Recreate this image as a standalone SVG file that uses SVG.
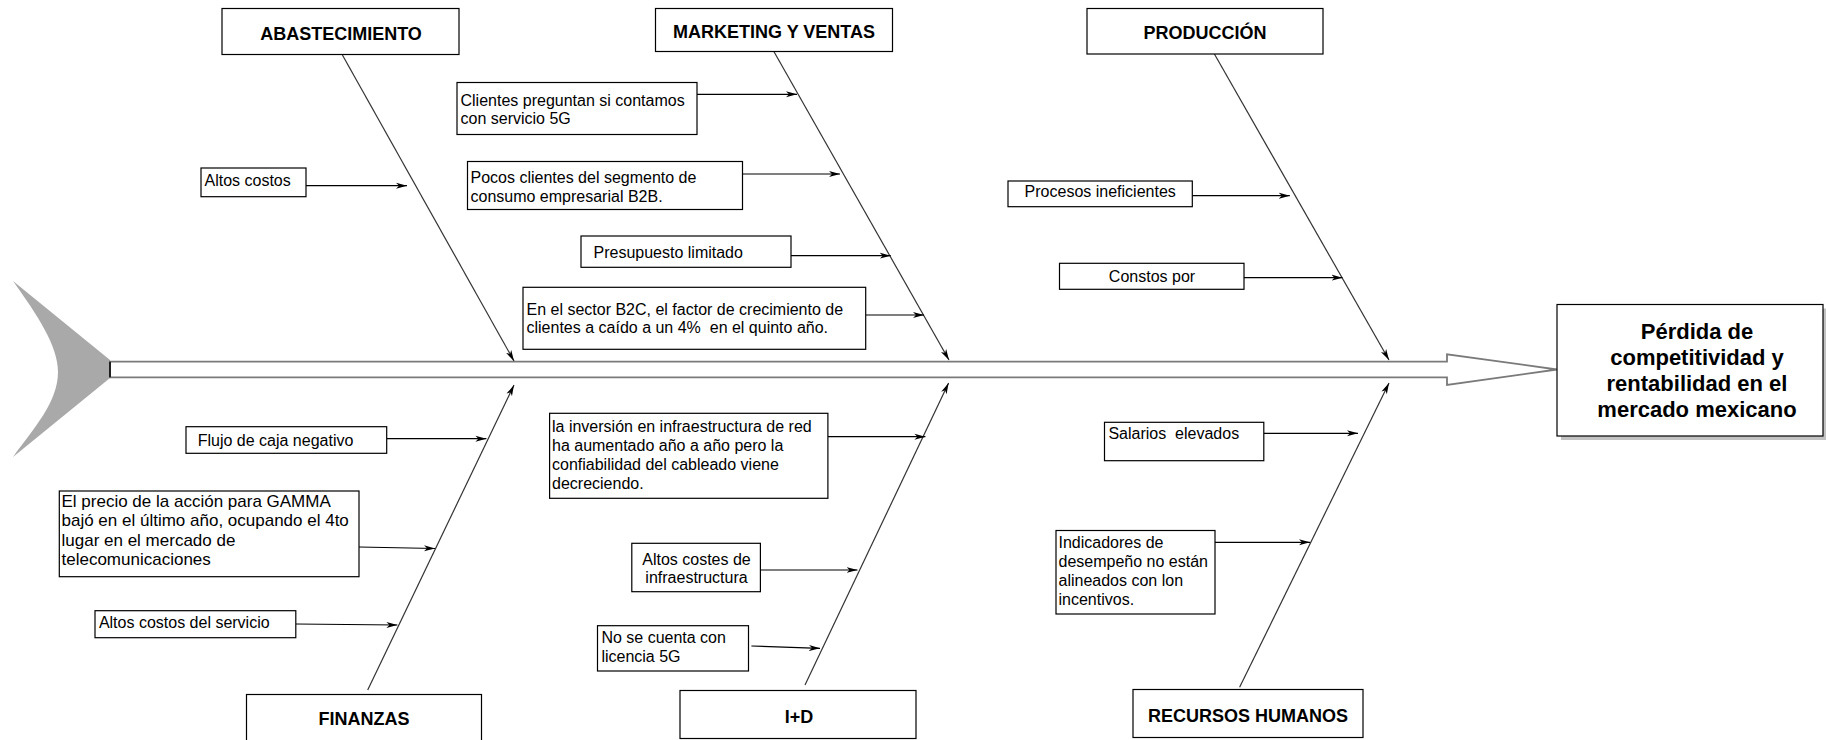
<svg xmlns="http://www.w3.org/2000/svg" width="1826" height="740" viewBox="0 0 1826 740">
<style>
  text { font-family: "Liberation Sans", Arial, sans-serif; fill: #000; white-space: pre; }
  .t { font-size: 16px; }
  .t17 { font-size: 17px; }
  .cat { font-size: 18px; font-weight: bold; text-anchor: middle; }
  .eff { font-size: 22px; font-weight: bold; text-anchor: middle; }
  .mid { text-anchor: middle; }
  .box { fill: #fff; stroke: #000; stroke-width: 1.2; }
  .bone { fill: none; stroke: #333; stroke-width: 1.2; marker-end: url(#ah); }
  .arr { fill: none; stroke: #000; stroke-width: 1.2; marker-end: url(#ah); }
</style>
<defs>
  <marker id="ah" markerUnits="userSpaceOnUse" markerWidth="12" markerHeight="8" refX="11" refY="3.5" orient="auto">
    <path d="M0,0.5 L11,3.5 L0,6.5 L3,3.5 Z" fill="#000"/>
  </marker>
</defs>
<rect width="1826" height="740" fill="#fff"/>

<g id="spine">
  <path d="M13,281 L110,360 L110,378 L13,457 C34,428 58,402 58,372 C58,346 38,316 13,281 Z" fill="#a9a9a9"/>
  <path d="M110,361.7 L1447,361.7 L1447,354.3 L1557,369.5 L1447,385 L1447,377.3 L110,377.3 Z" fill="#fff" stroke="#7a7a7a" stroke-width="1.8"/>
  <line x1="110" y1="361.7" x2="110" y2="377.3" stroke="#000" stroke-width="1.5"/>
</g>

<g id="connectors">
  <line class="bone" x1="342.4" y1="55" x2="514" y2="361"/>
  <line class="bone" x1="774" y1="51.7" x2="949" y2="360"/>
  <line class="bone" x1="1214.4" y1="54" x2="1389" y2="360"/>
  <line class="bone" x1="367.7" y1="690" x2="514" y2="385"/>
  <line class="bone" x1="805" y1="685" x2="948.6" y2="383"/>
  <line class="bone" x1="1239.6" y1="687.3" x2="1389" y2="383"/>

  <line class="arr" x1="306" y1="185.7" x2="407" y2="185.7"/>
  <line class="arr" x1="697" y1="94.3" x2="797" y2="94.3"/>
  <line class="arr" x1="742.5" y1="174" x2="840" y2="174"/>
  <line class="arr" x1="791" y1="255.7" x2="890.7" y2="255.7"/>
  <line class="arr" x1="865.7" y1="315" x2="924" y2="315"/>
  <line class="arr" x1="1192.3" y1="195.7" x2="1289.8" y2="195.7"/>
  <line class="arr" x1="1244" y1="277.7" x2="1342.5" y2="277.7"/>

  <line class="arr" x1="386.7" y1="438.7" x2="486.4" y2="438.7"/>
  <line class="arr" x1="359" y1="547" x2="435" y2="548.5"/>
  <line class="arr" x1="295.8" y1="624" x2="397.4" y2="625"/>
  <line class="arr" x1="828" y1="436.7" x2="925.4" y2="436.7"/>
  <line class="arr" x1="760.4" y1="570" x2="857.5" y2="570"/>
  <line class="arr" x1="751.4" y1="646" x2="820" y2="648.3"/>
  <line class="arr" x1="1263.8" y1="433.3" x2="1358" y2="433.3"/>
  <line class="arr" x1="1215" y1="542.3" x2="1310" y2="542.3"/>
</g>

<g id="effect">
  <rect x="1561" y="308.5" width="266" height="131.5" fill="#9a9a9a" opacity="0.6"/>
  <rect class="box" x="1557" y="304.5" width="266" height="131.5"/>
  <text class="eff" x="1697" y="339">Pérdida de</text>
  <text class="eff" x="1697" y="365">competitividad y</text>
  <text class="eff" x="1697" y="391">rentabilidad en el</text>
  <text class="eff" x="1697" y="417">mercado mexicano</text>
</g>

<g id="cat-abastecimiento">
  <rect class="box" x="222" y="8.5" width="237" height="46"/>
  <text class="cat" x="341" y="39.5">ABASTECIMIENTO</text>
</g>
<g id="cat-marketing">
  <rect class="box" x="655.5" y="8.5" width="237" height="43"/>
  <text class="cat" x="774" y="37.5">MARKETING Y VENTAS</text>
</g>
<g id="cat-produccion">
  <rect class="box" x="1087" y="8.5" width="236" height="45.5"/>
  <text class="cat" x="1205" y="38.5">PRODUCCIÓN</text>
</g>
<g id="cat-finanzas">
  <rect class="box" x="246.5" y="694.5" width="235" height="50"/>
  <text class="cat" x="364" y="725">FINANZAS</text>
</g>
<g id="cat-id">
  <rect class="box" x="680" y="690.5" width="236" height="48"/>
  <text class="cat" x="799" y="722.5">I+D</text>
</g>
<g id="cat-rrhh">
  <rect class="box" x="1133" y="689.5" width="230" height="48"/>
  <text class="cat" x="1248" y="721.5">RECURSOS HUMANOS</text>
</g>

<g id="c-altos-costos">
  <rect class="box" x="201" y="168" width="105" height="28.7"/>
  <text class="t" x="204.5" y="185.5">Altos costos</text>
</g>
<g id="c-clientes">
  <rect class="box" x="457" y="82.5" width="240" height="52"/>
  <text class="t" x="460.5" y="106">Clientes preguntan si contamos</text>
  <text class="t" x="460.5" y="124.3">con servicio 5G</text>
</g>
<g id="c-pocos">
  <rect class="box" x="467.5" y="161.5" width="275" height="48"/>
  <text class="t" x="470.5" y="183.3">Pocos clientes del segmento de</text>
  <text class="t" x="470.5" y="201.7">consumo empresarial B2B.</text>
</g>
<g id="c-presupuesto">
  <rect class="box" x="581" y="236" width="210" height="31.3"/>
  <text class="t" x="593.5" y="258.3">Presupuesto limitado</text>
</g>
<g id="c-b2c">
  <rect class="box" x="523" y="287.3" width="342.7" height="62"/>
  <text class="t" x="526.5" y="315">En el sector B2C, el factor de crecimiento de</text>
  <text class="t" x="526.5" y="333.3">clientes a caído a un 4%  en el quinto año.</text>
</g>
<g id="c-procesos">
  <rect class="box" x="1008" y="181" width="184.3" height="25.7"/>
  <text class="t mid" x="1100.2" y="197.3">Procesos ineficientes</text>
</g>
<g id="c-constos">
  <rect class="box" x="1059.5" y="263.3" width="184.5" height="26"/>
  <text class="t mid" x="1152" y="281.7">Constos por</text>
</g>

<g id="c-flujo">
  <rect class="box" x="186" y="426.7" width="200.7" height="26.6"/>
  <text class="t" x="197.7" y="445.7">Flujo de caja negativo</text>
</g>
<g id="c-precio">
  <rect class="box" x="59.3" y="491" width="299.7" height="85.7"/>
  <text class="t17" x="61.5" y="506.5">El precio de la acción para GAMMA</text>
  <text class="t17" x="61.5" y="526">bajó en el último año, ocupando el 4to</text>
  <text class="t17" x="61.5" y="545.5">lugar en el mercado de</text>
  <text class="t17" x="61.5" y="565">telecomunicaciones</text>
</g>
<g id="c-servicio">
  <rect class="box" x="95" y="610.7" width="200.8" height="27"/>
  <text class="t" x="98.9" y="627.7">Altos costos del servicio</text>
</g>
<g id="c-inversion">
  <rect class="box" x="549.6" y="413.3" width="278.3" height="85"/>
  <text class="t" x="552" y="431.7">la inversión en infraestructura de red</text>
  <text class="t" x="552" y="450.8">ha aumentado año a año pero la</text>
  <text class="t" x="552" y="469.9">confiabilidad del cableado viene</text>
  <text class="t" x="552" y="489">decreciendo.</text>
</g>
<g id="c-costes">
  <rect class="box" x="631.8" y="543.3" width="128.6" height="48.4"/>
  <text class="t mid" x="696.5" y="565">Altos costes de</text>
  <text class="t mid" x="696.5" y="583.3">infraestructura</text>
</g>
<g id="c-licencia">
  <rect class="box" x="597.5" y="625.7" width="151" height="45.3"/>
  <text class="t" x="601.4" y="643.3">No se cuenta con</text>
  <text class="t" x="601.4" y="661.7">licencia 5G</text>
</g>
<g id="c-salarios">
  <rect class="box" x="1104.5" y="422.3" width="159.3" height="38.4"/>
  <text class="t" x="1108.4" y="439.3">Salarios  elevados</text>
</g>
<g id="c-indicadores">
  <rect class="box" x="1056" y="530.5" width="159" height="83.5"/>
  <text class="t" x="1058.5" y="548.3">Indicadores de</text>
  <text class="t" x="1058.5" y="567">desempeño no están</text>
  <text class="t" x="1058.5" y="585.8">alineados con lon</text>
  <text class="t" x="1058.5" y="604.5">incentivos.</text>
</g>
</svg>
